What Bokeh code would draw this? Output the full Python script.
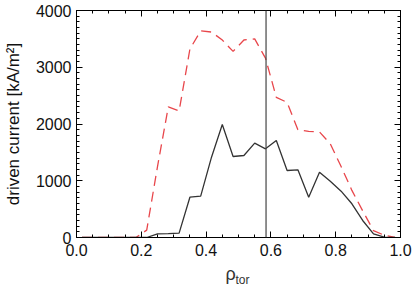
from bokeh.plotting import figure
from bokeh.models import Range1d, LinearAxis, Span, Title, FixedTicker
from bokeh.embed import file_html
from bokeh.resources import INLINE

# radial grid (rho_tor)
rho = [0.0167, 0.05, 0.0833, 0.1167, 0.15, 0.1833, 0.2167, 0.25, 0.2833, 0.3167,
       0.35, 0.3833, 0.4167, 0.45, 0.4833, 0.5167, 0.55, 0.5833, 0.6167, 0.65,
       0.6833, 0.7167, 0.75, 0.7833, 0.8167, 0.85, 0.8833, 0.9167, 0.95, 0.9833]
# driven current, solid dark line [kA/m^2]
current_solid = [0, 0, 0, 0, 0, 0, 0, 65, 70, 76,
                 710, 728, 1415, 1991, 1427, 1445, 1662, 1563, 1709, 1181,
                 1193, 710, 1151, 992, 816, 594, 300, 65, 5, 0]
# driven current, red dashed line [kA/m^2]
current_dashed = [0, 0, 0, 0, 0, 0, 130, 1250, 2300, 2230,
                  3320, 3640, 3620, 3480, 3280, 3480, 3500, 3160, 2470, 2380,
                  1900, 1870, 1860, 1650, 1250, 830, 470, 120, 40, 0]
rho_marker = 0.585
x_ticks = [0.0, 0.2, 0.4, 0.6, 0.8, 1.0]
x_minor = [i * 0.05 for i in range(21)]
y_ticks = [0, 1000, 2000, 3000, 4000]
y_minor = [i * 100 for i in range(41)]

FONT = "Liberation Sans"

p = figure(frame_width=324, frame_height=227, output_backend="svg", toolbar_location=None,
           x_range=Range1d(0, 1), y_range=Range1d(0, 4000),
           min_border_left=74, min_border_right=15, min_border_top=10, min_border_bottom=0,
           x_axis_type=None, y_axis_type=None)
p.grid.visible = False
p.outline_line_color = "black"
p.outline_line_width = 1
p.background_fill_color = "white"
p.border_fill_color = "white"

def style(ax):
    ax.major_tick_in = 6
    ax.major_tick_out = 0
    ax.minor_tick_in = 3
    ax.minor_tick_out = 0
    ax.axis_line_color = "black"
    ax.major_tick_line_color = "black"
    ax.minor_tick_line_color = "black"
    ax.major_label_text_font = FONT
    ax.major_label_text_font_size = "16px"
    ax.major_label_text_color = "#111111"

def mirror(side, major, minor):
    # unlabeled mirror ticks: minor ticks as one axis, major ticks as another
    for ticks, length in ((minor, 3), (major, 6)):
        ax = LinearAxis(ticker=FixedTicker(ticks=[], minor_ticks=ticks))
        ax.minor_tick_in = length
        ax.minor_tick_out = 0
        ax.major_tick_in = 0
        ax.major_tick_out = 0
        ax.major_label_standoff = 0
        ax.axis_label_standoff = 0
        ax.axis_line_color = "black"
        ax.minor_tick_line_color = "black"
        p.add_layout(ax, side)

xb = LinearAxis(ticker=FixedTicker(ticks=x_ticks, minor_ticks=x_minor))
style(xb)
xb.major_label_standoff = 6
xb.major_label_overrides = {0: "0.0", 1: "1.0"}
p.add_layout(xb, "below")

yl = LinearAxis(ticker=FixedTicker(ticks=y_ticks, minor_ticks=y_minor))
style(yl)
yl.major_label_standoff = 5
yl.axis_label = "driven current [kA/m²]"
yl.axis_label_text_font = FONT
yl.axis_label_text_font_size = "17px"
yl.axis_label_text_font_style = "normal"
yl.axis_label_text_color = "#111111"
yl.axis_label_standoff = 10
p.add_layout(yl, "left")

mirror("above", x_ticks, x_minor)
mirror("right", y_ticks, y_minor)

p.line(rho, current_dashed, line_color="#e8464b", line_width=1.3, line_dash="10 6")
p.line(rho, current_solid, line_color="#333333", line_width=1.3)
p.add_layout(Span(location=rho_marker, dimension="height", line_color="#444444", line_width=1.2))

# x-axis title: rho with subscript "tor"
t1 = Title(text="ρ", align="left", offset=149, standoff=6,
           text_font=FONT, text_font_size="18px", text_font_style="normal", text_color="#333333")
t2 = Title(text="tor", align="left", offset=159, standoff=-28, vertical_align="top",
           text_font=FONT, text_font_size="12px", text_font_style="normal", text_color="#333333")
p.add_layout(t1, "below")
p.add_layout(t2, "below")

open("out.html", "w").write(file_html(p, INLINE))
